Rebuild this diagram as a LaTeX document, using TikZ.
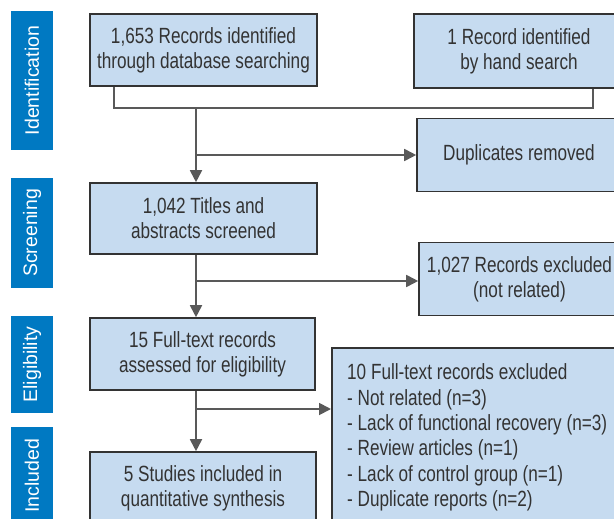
\documentclass[tikz,border=0pt]{standalone}
\usepackage{fontspec}
\setmainfont[FakeStretch=0.78]{Liberation Sans}
\newfontfamily\sidefont{Liberation Sans}
\usetikzlibrary{arrows.meta}
\definecolor{sideblue}{HTML}{0079C2}
\definecolor{boxfill}{HTML}{C6DBF0}
\definecolor{boxline}{HTML}{333333}
\definecolor{conn}{HTML}{595959}
\definecolor{txt}{HTML}{333333}
\begin{document}
\begin{tikzpicture}[x=1pt,y=-1pt,
  sidelabel/.style={fill=sideblue,text=white,rotate=90,inner sep=0pt,
    minimum height=42pt,font=\sidefont\fontsize{19.5}{23}\selectfont},
  flowbox/.style={draw=boxline,line width=1.6pt,fill=boxfill,text=txt,inner sep=0pt,
    align=center,font=\fontsize{22}{25}\selectfont},
  conline/.style={draw=conn,line width=1.8pt},
  conarrow/.style={conline,-{Triangle[length=12pt,width=12pt]}}]
\useasboundingbox (0,0) rectangle (614,519);
\clip (0,0) rectangle (614,519);
% side labels
\node[sidelabel,minimum width=139pt] (sid) at (32,80.5) {Identification};
\node[sidelabel,minimum width=110pt] (ssc) at (32,233) {Screening};
\node[sidelabel,minimum width=97pt] (sel) at (32,364.5) {Eligibility};
\node[sidelabel,minimum width=98pt] (sin) at (32,476) {Included};
% boxes
\node[flowbox,minimum width=227pt,minimum height=72pt] (A) at (203.5,50) {1,653 Records identified\\through database searching};
\node[flowbox,minimum width=210pt,minimum height=74pt] (B) at (519,51) {1 Record identified\\by hand search};
\node[flowbox,minimum width=204pt,minimum height=73pt] (Dup) at (519,155) {Duplicates removed};
\node[flowbox,minimum width=227pt,minimum height=71pt] (C) at (203.5,218.5) {1,042 Titles and\\abstracts screened};
\node[flowbox,minimum width=201pt,minimum height=73pt] (E) at (519.5,279) {1,027 Records excluded\\(not related)};
\node[flowbox,minimum width=225pt,minimum height=72pt] (D) at (202.5,354) {15 Full-text records\\assessed for eligibility};
\node[flowbox,minimum width=226pt,minimum height=72pt] (F) at (203,488) {5 Studies included in\\quantitative synthesis};
\node[flowbox,anchor=north west,minimum width=309pt,minimum height=193pt] (G) at (331,347) {};
\node[anchor=north west,inner sep=0pt,align=left,text=txt,font=\fontsize{22}{25.4}\selectfont] (Gt) at (347,363.5)
  {10 Full-text records excluded\\
   - Not related (n=3)\\
   - Lack of functional recovery (n=3)\\
   - Review articles (n=1)\\
   - Lack of control group (n=1)\\
   - Duplicate reports (n=2)};
% junctions
\coordinate (j1) at (196,108);
\coordinate (j2) at (196,281);
\coordinate (j3) at (196,409);
% connectors
\draw[conline] ([xshift=-89.5pt]A.south) |- (j1) -| ([xshift=74pt]B.south);
\draw[conarrow] (j1) -- (j1 |- C.north);
\draw[conarrow] (j1 |- Dup.west) -- (Dup.west);
\draw[conarrow] (C.south -| j1) -- (D.north -| j1);
\draw[conarrow] (j2) -- (j2 -| E.west);
\draw[conarrow] (D.south -| j1) -- (F.north -| j1);
\draw[conarrow] (j3) -- (j3 -| G.west);
\end{tikzpicture}
\end{document}
